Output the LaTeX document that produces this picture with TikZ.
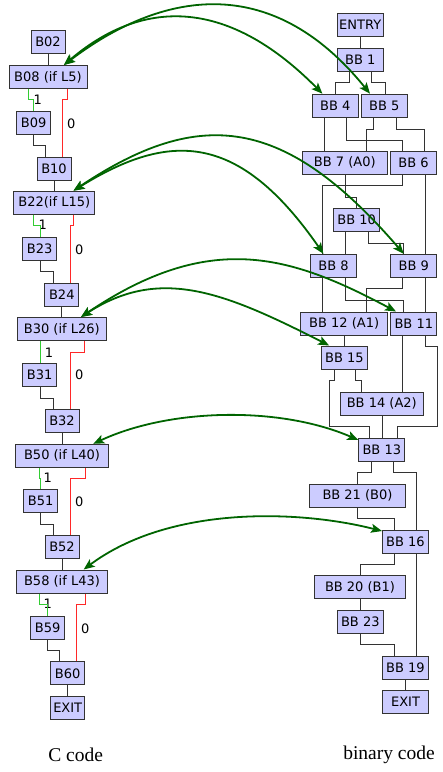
\documentclass[tikz,border=0pt]{standalone}
\usepackage{fontspec}
\usepackage{xcolor}
\usetikzlibrary{arrows.meta}
\newfontfamily\blkfont{DejaVu Sans}
\newfontfamily\capfont{Liberation Serif}

\definecolor{boxfill}{RGB}{204,204,255}
\definecolor{boxline}{RGB}{51,51,51}
\definecolor{mapgreen}{RGB}{0,100,0}
\definecolor{yesgreen}{RGB}{51,204,51}
\definecolor{nored}{RGB}{255,40,40}

\tikzset{
  blk/.style={draw=boxline, fill=boxfill, line width=1pt, minimum width=34pt,
    minimum height=23pt, inner xsep=2pt, inner ysep=0pt,
    font=\blkfont\fontsize{13}{15}\selectfont},
  bb/.style={blk, minimum width=46pt},
  flow/.style={draw=boxline, line width=0.9pt},
  taken/.style={draw=yesgreen, line width=0.9pt},
  nottaken/.style={draw=nored, line width=0.9pt},
  lbl/.style={inner sep=0pt, font=\blkfont\fontsize{13}{15}\selectfont},
  map/.style={draw=mapgreen, line width=1.8pt,
    {Stealth[length=11pt,width=9pt,inset=2.5pt]}-{Stealth[length=11pt,width=9pt,inset=2.5pt]}},
  caption/.style={font=\capfont\fontsize{19.5}{22}\selectfont}
}

\begin{document}
\begin{tikzpicture}[x=1pt, y=-1pt]
  \useasboundingbox (0,0) rectangle (443,772);

  % C code blocks
  \node[blk] (b02) at (48,42) {B02};
  \node[blk, minimum width=78pt] (b08) at (48,77) {B08 (if L5)};
  \node[blk] (b09) at (33.7,122.5) {B09};
  \node[blk] (b10) at (54,169) {B10};
  \node[blk, minimum width=80.7pt] (b22) at (54.3,202.7) {B22(if L15)};
  \node[blk] (b23) at (39.7,249) {B23};
  \node[blk] (b24) at (61.8,295) {B24};
  \node[blk, minimum width=89pt] (b30) at (61.8,329) {B30 (if L26)};
  \node[blk] (b31) at (39.7,375) {B31};
  \node[blk] (b32) at (62,421) {B32};
  \node[blk, minimum width=93.4pt] (b50) at (62,455.8) {B50 (if L40)};
  \node[blk] (b51) at (40.7,501) {B51};
  \node[blk] (b52) at (62,547) {B52};
  \node[blk, minimum width=91.4pt] (b58) at (62,581.5) {B58 (if L43)};
  \node[blk] (b59) at (47.7,627.5) {B59};
  \node[blk] (b60) at (67.7,673.3) {B60};
  \node[blk] (cexit) at (67.7,707.7) {EXIT};

  % binary basic blocks
  \node[bb] (entry) at (360.2,24.7) {ENTRY};
  \node[bb] (bb1) at (360.2,59.7) {BB 1};
  \node[bb] (bb4) at (335.3,105.7) {BB 4};
  \node[bb] (bb5) at (384.3,105.7) {BB 5};
  \node[bb, minimum width=85pt] (bb7) at (344.8,162.5) {BB 7 (A0)};
  \node[bb] (bb6) at (413.5,162.5) {BB 6};
  \node[bb] (bb10) at (356.7,219.8) {BB 10};
  \node[bb] (bb8) at (333.5,265.8) {BB 8};
  \node[bb] (bb9) at (413.8,265.8) {BB 9};
  \node[bb, minimum width=87pt] (bb12) at (344.2,323.5) {BB 12 (A1)};
  \node[bb] (bb11) at (413.8,323.5) {BB 11};
  \node[bb] (bb15) at (344.5,357.5) {BB 15};
  \node[bb, minimum width=83pt] (bb14) at (381.8,403.8) {BB 14 (A2)};
  \node[bb] (bb13) at (381.8,449.5) {BB 13};
  \node[bb, minimum width=96.4pt] (bb21) at (357.5,495.5) {BB 21 (B0)};
  \node[bb] (bb16) at (405.5,541.5) {BB 16};
  \node[bb, minimum width=91.4pt] (bb20) at (360,587.2) {BB 20 (B1)};
  \node[bb] (bb23) at (360.3,621.5) {BB 23};
  \node[bb] (bb19) at (405.5,667.5) {BB 19};
  \node[bb] (bexit) at (405.5,702) {EXIT};

  % branch labels
  \node[lbl] (t08) at (37.7,99.3) {1};
  \node[lbl] (f08) at (71.3,123.3) {0};
  \node[lbl] (t22) at (42.7,224.3) {1};
  \node[lbl] (f22) at (79.3,249.3) {0};
  \node[lbl] (t30) at (49,352.3) {1};
  \node[lbl] (f30) at (79.3,375) {0};
  \node[lbl] (t50) at (47.7,478) {1};
  \node[lbl] (f50) at (79.3,502) {0};
  \node[lbl] (t58) at (47.7,603.3) {1};
  \node[lbl] (f58) at (85.3,628.3) {0};

  % C control flow
  \draw[flow] (b02) -- (b08);
  \draw[taken] (b08.south -| 28.3,0) |- (33.7,99.3) -- (b09.north -| 33.7,0);
  \draw[nottaken] (b08.south -| 67.7,0) |- (62.7,99) -- (b10.north -| 62.7,0);
  \draw[flow] (b09.south -| 33.7,0) |- (45.7,145.7) -- (b10.north -| 45.7,0);
  \draw[flow] (b10.south -| 54,0) -- (b22.north -| 54,0);
  \draw[taken] (b22.south -| 33.7,0) |- (40,225.7) -- (b23.north -| 40,0);
  \draw[nottaken] (b22.south -| 73.7,0) |- (70.3,225.7) -- (b24.north -| 70.3,0);
  \draw[flow] (b23.south -| 40,0) |- (53.3,271.7) -- (b24.north -| 53.3,0);
  \draw[flow] (b24.south -| 61.7,0) -- (b30.north -| 61.7,0);
  \draw[taken] (b30.south -| 40,0) -- (b31.north -| 40,0);
  \draw[nottaken] (b30.south -| 84.3,0) |- (70.3,352.3) -- (b32.north -| 70.3,0);
  \draw[flow] (b31.south -| 40,0) |- (53.3,398.3) -- (b32.north -| 53.3,0);
  \draw[flow] (b32.south -| 62,0) -- (b50.north -| 62,0);
  \draw[taken] (b50.south -| 39,0) |- (40.7,478.7) -- (b51.north -| 40.7,0);
  \draw[nottaken] (b50.south -| 85.7,0) |- (70.3,478) -- (b52.north -| 70.3,0);
  \draw[flow] (b51.south -| 40.7,0) |- (53.3,524) -- (b52.north -| 53.3,0);
  \draw[flow] (b52.south -| 62,0) -- (b58.north -| 62,0);
  \draw[taken] (b58.south -| 39,0) |- (47.7,604.3) -- (b59.north -| 47.7,0);
  \draw[nottaken] (b58.south -| 85,0) |- (76.3,604.3) -- (b60.north -| 76.3,0);
  \draw[flow] (b59.south -| 47.7,0) |- (59.3,650.3) -- (b60.north -| 59.3,0);
  \draw[flow] (b60.south -| 67.7,0) -- (cexit.north -| 67.7,0);

  % binary control flow
  \draw[flow] (entry) -- (bb1);
  \draw[flow] (bb1.south -| 349.3,0) |- (335.3,82.7) -- (bb4.north -| 335.3,0);
  \draw[flow] (bb1.south -| 371.7,0) |- (385,82.7) -- (bb5.north -| 385,0);
  \draw[flow] (bb4.south -| 324.3,0) -- (bb7.north -| 324.3,0);
  \draw[flow] (bb4.south -| 346.7,0) |- (402.7,140.7) -- (bb6.north -| 402.7,0);
  \draw[flow] (bb5.south -| 373.7,0) |- (366.7,129) -- (bb7.north -| 366.7,0);
  \draw[flow] (bb5.south -| 396.3,0) |- (424.3,129) -- (bb6.north -| 424.3,0);
  \draw[flow] (bb7.south -| 345,0) |- (356.7,197.3) -- (bb10.north -| 356.7,0);
  \draw[flow] (bb6.south -| 402.7,0) |- (322.3,185.7) -- (bb8.north -| 322.3,0);
  \draw[flow] (bb6.south -| 425.3,0) -- (bb9.north -| 425.3,0);
  \draw[flow] (bb10.south -| 345,0) -- (bb8.north -| 345,0);
  \draw[flow] (bb10.south -| 368.3,0) |- (403.3,243.3) -- (bb9.north -| 403.3,0);
  \draw[flow] (bb8.south -| 322.3,0) -- (bb12.north -| 322.3,0);
  \draw[flow] (bb8.south -| 345,0) |- (403.3,300) -- (bb11.north -| 403.3,0);
  \draw[flow] (bb9.south -| 402.3,0) |- (366,288.3) -- (bb12.north -| 366,0);
  \draw[flow] (bb9.south -| 425.7,0) -- (bb11.north -| 425.7,0);
  \draw[flow] (bb12.south -| 344,0) -- (bb15.north -| 344,0);
  \draw[flow] (bb11.south -| 402.7,0) -- (bb14.north -| 402.7,0);
  \draw[flow] (bb11.south -| 425.7,0) |- (437,346) |- (397,426.7) -- (bb13.north -| 397,0);
  \draw[flow] (bb15.south -| 334,0) |- (329.3,380) |- (369,426.7) -- (bb13.north -| 369,0);
  \draw[flow] (bb15.south -| 355.3,0) |- (361,380) -- (bb14.north -| 361,0);
  \draw[flow] (bb14.south -| 382,0) -- (bb13.north -| 382,0);
  \draw[flow] (bb13.south -| 371,0) |- (357.7,472.7) -- (bb21.north -| 357.7,0);
  \draw[flow] (bb13.south -| 393.7,0) |- (416.7,472.7) -- (bb16.north -| 416.7,0);
  \draw[flow] (bb21.south -| 357.7,0) |- (394.3,518.7) -- (bb16.north -| 394.3,0);
  \draw[flow] (bb16.south -| 394.3,0) |- (360.3,564.3) -- (bb20.north -| 360.3,0);
  \draw[flow] (bb16.south -| 416.7,0) -- (bb19.north -| 416.7,0);
  \draw[flow] (bb20.south -| 360,0) -- (bb23.north -| 360,0);
  \draw[flow] (bb23.south -| 360,0) |- (394.3,644.7) -- (bb19.north -| 394.3,0);
  \draw[flow] (bb19.south -| 405.7,0) -- (bexit.north -| 405.7,0);

  % source-to-binary mapping
  \draw[map] (b08.37) .. controls (140,0) and (225,-5) .. (bb4.137);
  \draw[map] (b08.37) .. controls (160,-8) and (270,-30) .. (bb5.140);
  \draw[map] (b22.32) .. controls (170,131) and (239,132) .. (bb8.130);
  \draw[map] (b22.32) .. controls (200,106) and (285,116) .. (bb9.130);
  \draw[map] (b30.32) .. controls (210,230) and (290,255) .. (bb11.146);
  \draw[map] (b30.32) .. controls (160,266) and (224,292) .. (bb15.142);
  \draw[map] (b50.21) .. controls (170,408) and (280,406) .. (bb13.158);
  \draw[map] (b58.29) .. controls (170,505) and (300,510) .. (bb16.156);

  % captions
  \node[caption] (ccode) at (75.7,755) {C code};
  \node[caption] (bcode) at (389,755) {binary code};
\end{tikzpicture}
\end{document}
